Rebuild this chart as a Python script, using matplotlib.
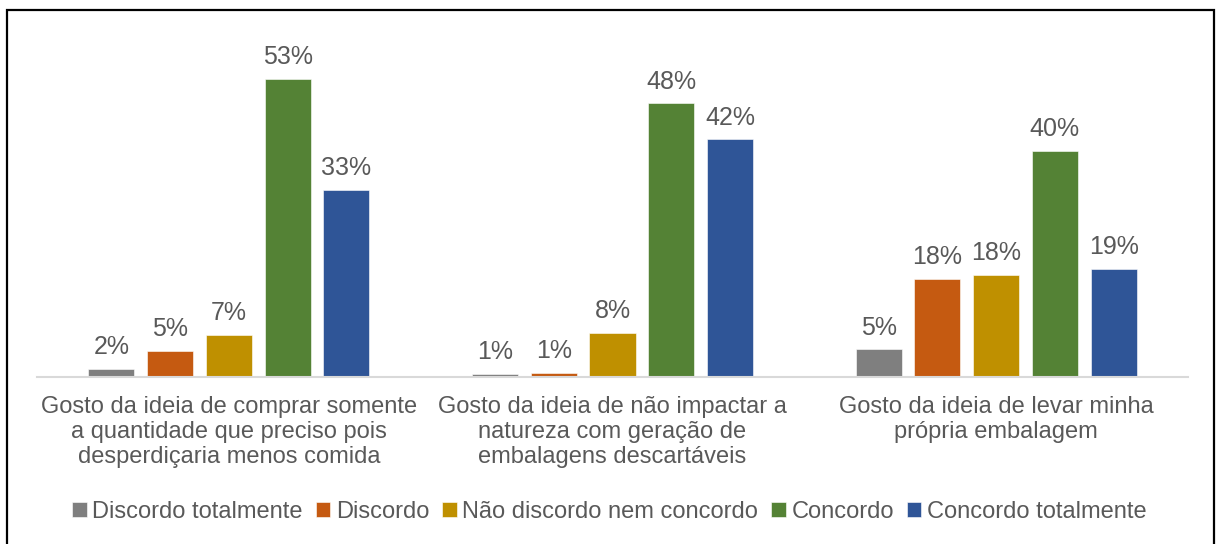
import numpy as np
import matplotlib.pyplot as plt
from matplotlib.patches import Rectangle

plt.rcParams['font.family'] = ['Liberation Sans', 'DejaVu Sans']

categories = ["Gosto da ideia de comprar somente\na quantidade que preciso pois\ndesperdiçaria menos comida",
              "Gosto da ideia de não impactar a\nnatureza com geração de\nembalagens descartáveis",
              "Gosto da ideia de levar minha\nprópria embalagem"]
series = ["Discordo totalmente", "Discordo", "Não discordo nem concordo", "Concordo", "Concordo totalmente"]

# values per series, one entry per category (percent)
discordo_tot = [1.5, 0.5, 4.9]
discordo = [4.6, 0.8, 17.4]
neutro = [7.5, 7.8, 18.2]
concordo = [53.0, 48.7, 40.3]
concordo_tot = [33.3, 42.3, 19.2]

# labels as printed on the chart
lbl_discordo_tot = ["2%", "1%", "5%"]
lbl_discordo = ["5%", "1%", "18%"]
lbl_neutro = ["7%", "8%", "18%"]
lbl_concordo = ["53%", "48%", "40%"]
lbl_concordo_tot = ["33%", "42%", "19%"]

values = [discordo_tot, discordo, neutro, concordo, concordo_tot]
labels = [lbl_discordo_tot, lbl_discordo, lbl_neutro, lbl_concordo, lbl_concordo_tot]
colors = ['#7F7F7F', '#C55A11', '#BF9000', '#548235', '#2F5597']

txt_color = '#595959'

fig = plt.figure(figsize=(12.19, 5.44), dpi=100)
W, H = 1219, 544
# axes: x from 37 to 1188 px, baseline at 377 px, top at 30 px
ax = fig.add_axes([37 / W, 1 - 377 / H, (1188 - 37) / W, (377 - 30) / H])

x = np.arange(len(categories))
width = 0.12
step = 0.153
for i, (vals, labs, col, name) in enumerate(zip(values, labels, colors, series)):
    pos = x + (i - 2) * step
    bars = ax.bar(pos, vals, width, color=col, label=name, edgecolor='white', linewidth=0.4)
    for b, lab in zip(bars, labs):
        ax.annotate(lab, (b.get_x() + b.get_width() / 2, b.get_height()),
                    xytext=(0, 7), textcoords='offset points',
                    ha='center', va='bottom', fontsize=18, color=txt_color)

ax.set_xlim(-0.5, 2.5)
ax.set_ylim(0, 347 / 5.62)
ax.set_yticks([])
for s in ['top', 'right', 'left']:
    ax.spines[s].set_visible(False)
ax.spines['bottom'].set_color('#D9D9D9')
ax.spines['bottom'].set_linewidth(1.5)
ax.set_xticks(x)
ax.set_xticklabels(categories, fontsize=17, color=txt_color, linespacing=1.15)
ax.tick_params(axis='x', length=0, pad=14)

fig.legend(loc='center', bbox_to_anchor=(0.5, 1 - 512 / H), ncol=5, frameon=False,
           fontsize=17, labelcolor=txt_color, handlelength=0.6, handleheight=0.6,
           handletextpad=0.25, columnspacing=0.55)

# outer frame
fig.patches.append(Rectangle((7 / W, -0.05), (1214 - 7) / W, 1.05 - 10 / H,
                             transform=fig.transFigure, fill=False,
                             edgecolor='black', linewidth=1.6))

plt.savefig('out.png', dpi=100)
